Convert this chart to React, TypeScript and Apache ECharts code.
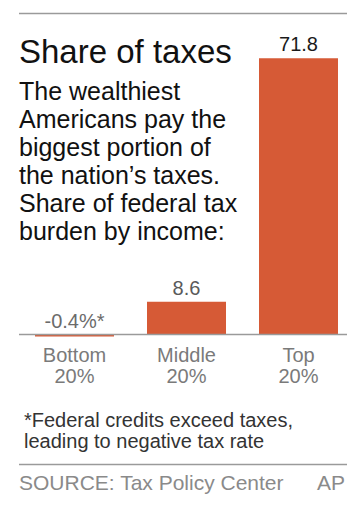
import React, { useEffect, useRef } from "react";
import * as echarts from "echarts";

const categories = ["Bottom\n20%", "Middle\n20%", "Top\n20%"];
const values = [-0.4, 8.6, 71.8];
const valueLabels = ["-0.4%*", "8.6", "71.8"];
const labelColors = ["#6b6b6b", "#5a5a5a", "#1a1a1a"];

const titleText = "Share of taxes";
const subtitleLines = [
  "The wealthiest",
  "Americans pay the",
  "biggest portion of",
  "the nation\u2019s taxes.",
  "Share of federal tax",
  "burden by income:",
];
const footnoteLines = [
  "*Federal credits exceed taxes,",
  "leading to negative tax rate",
];
const sourceText = "SOURCE: Tax Policy Center";
const creditText = "AP";

const FONT = "'Liberation Sans', Arial, Helvetica, sans-serif";
const BAR = "#d65a36";

export default function App() {
  const ref = useRef<HTMLDivElement>(null);
  useEffect(() => {
    document.body.style.margin = "0";
    if (!ref.current) return;
    const chart = echarts.init(ref.current, null, { renderer: "svg" });
    chart.setOption({
      animation: false,
      backgroundColor: "#ffffff",
      title: [
        {
          text: titleText,
          left: 19,
          top: 33,
          padding: 0,
          textStyle: { fontFamily: FONT, fontSize: 33, fontWeight: "normal", color: "#111", lineHeight: 37 },
        },
        {
          text: subtitleLines.join("\n"),
          left: 19,
          top: 77,
          padding: 0,
          textStyle: { fontFamily: FONT, fontSize: 25, fontWeight: "normal", color: "#111", lineHeight: 28 },
        },
        {
          text: footnoteLines.join("\n"),
          left: 24,
          top: 409,
          padding: 0,
          textStyle: { fontFamily: FONT, fontSize: 20, fontWeight: "normal", color: "#333", lineHeight: 21 },
        },
        {
          text: sourceText,
          left: 19,
          top: 471,
          padding: 0,
          textStyle: { fontFamily: FONT, fontSize: 21, fontWeight: "normal", color: "#8a8a8a", lineHeight: 23 },
        },
        {
          text: creditText,
          right: 19,
          top: 471,
          padding: 0,
          textStyle: { fontFamily: FONT, fontSize: 21, fontWeight: "normal", color: "#8a8a8a", lineHeight: 23 },
        },
      ],
      grid: { left: 18.5, right: 9.5, top: 46, bottom: 169.3, containLabel: false },
      xAxis: {
        type: "category",
        data: categories,
        axisLine: { show: false, onZero: true },
        axisTick: { show: false },
        axisLabel: {
          margin: 2,
          fontFamily: FONT,
          fontSize: 20,
          lineHeight: 21,
          color: "#7a7a7a",
        },
      },
      yAxis: {
        type: "value",
        min: -2,
        max: 75,
        show: false,
        splitLine: { show: false },
      },
      graphic: [
        { type: "line", shape: { x1: 19, y1: 13.5, x2: 347, y2: 13.5 }, style: { stroke: "#9a9a9a", lineWidth: 1.5 } },
        { type: "line", shape: { x1: 19, y1: 334.5, x2: 347, y2: 334.5 }, style: { stroke: "#9a9a9a", lineWidth: 1.5 }, z: 10 },
        { type: "line", shape: { x1: 19, y1: 464.5, x2: 347, y2: 464.5 }, style: { stroke: "#9a9a9a", lineWidth: 1.5 } },
      ],
      series: [
        {
          type: "bar",
          barWidth: 79,
          data: values.map((v, i) => ({
            value: v,
            itemStyle: { color: BAR },
            label: {
              show: true,
              position: "top",
              distance: 4,
              formatter: valueLabels[i],
              fontFamily: FONT,
              fontSize: 20,
              color: labelColors[i],
            },
          })),
          z: 2,
        },
      ],
    });
    return () => chart.dispose();
  }, []);
  return <div ref={ref} style={{ width: 364, height: 512 }} />;
}
